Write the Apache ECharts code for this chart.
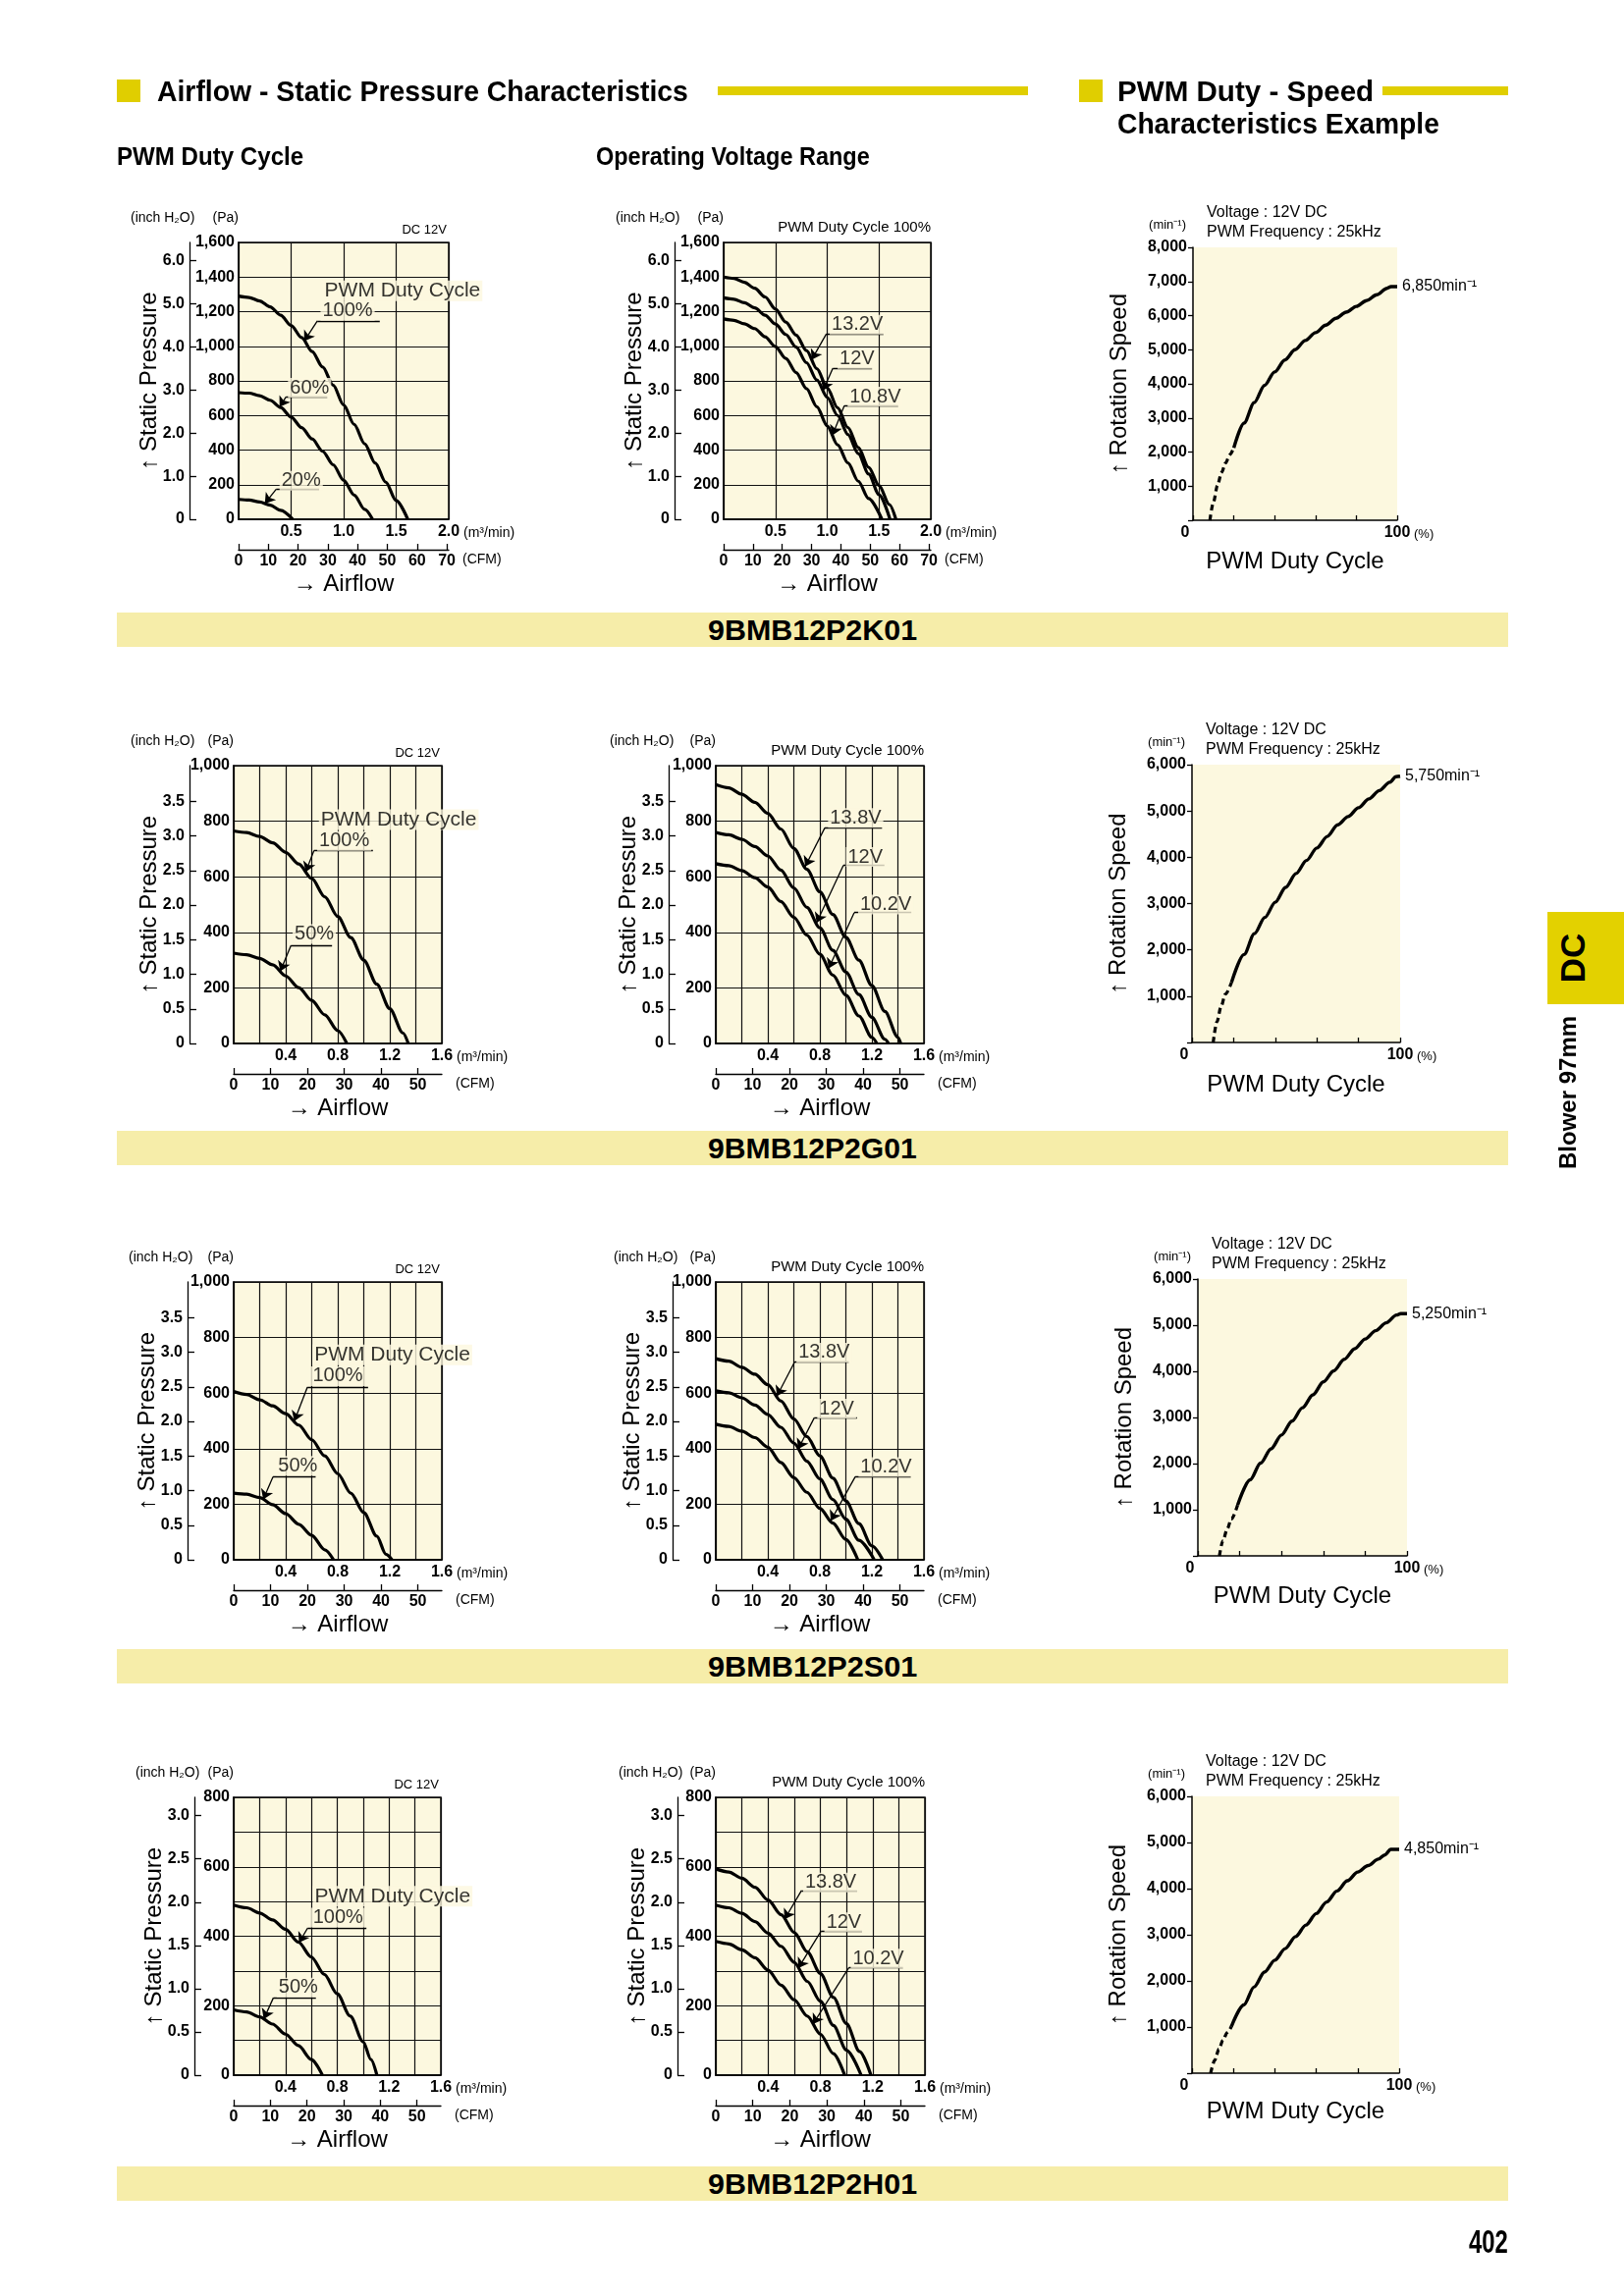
<!DOCTYPE html>
<html><head><meta charset="utf-8">
<script src="https://cdn.jsdelivr.net/npm/echarts@6/dist/echarts.min.js"></script>
<style>
html,body{margin:0;padding:0;background:#fff;}
body{width:1654px;height:2339px;position:relative;overflow:hidden;font-family:'Liberation Sans',Arial,sans-serif;color:#000;}
#chart{position:absolute;left:0;top:0;width:1654px;height:2339px;}
.rect{position:absolute;}
.txt{position:absolute;white-space:nowrap;line-height:1;transform-origin:0 50%;font-weight:bold;}
.rot{position:absolute;white-space:nowrap;line-height:1;font-weight:bold;transform:translate(-50%,-50%) rotate(-90deg);}
</style></head>
<body>
<div id="chart"></div>

<div class="rect" style="left:119px;top:81px;width:24px;height:23px;background:#e0ce00"></div>
<div class="rect" style="left:731px;top:88px;width:316px;height:9px;background:#e0ce00"></div>
<div class="rect" style="left:1099px;top:81px;width:24px;height:23px;background:#e0ce00"></div>
<div class="rect" style="left:1408px;top:88px;width:128px;height:9px;background:#e0ce00"></div>

<div class="txt" data-w="541" data-cy="93" style="left:160px;font-size:29px">Airflow - Static Pressure Characteristics</div>
<div class="txt" data-w="261" data-cy="93" style="left:1138px;font-size:29px">PWM Duty - Speed</div>
<div class="txt" data-w="328" data-cy="126" style="left:1138px;font-size:29px">Characteristics Example</div>
<div class="txt" data-w="190" data-cy="159" style="left:119px;font-size:26px">PWM Duty Cycle</div>
<div class="txt" data-w="279" data-cy="159" style="left:607px;font-size:26px">Operating Voltage Range</div>

<div class="rect" style="left:119px;top:624px;width:1417px;height:35px;background:#f6eda9"></div>
<div class="rect" style="left:119px;top:1152px;width:1417px;height:35px;background:#f6eda9"></div>
<div class="rect" style="left:119px;top:1680px;width:1417px;height:35px;background:#f6eda9"></div>
<div class="rect" style="left:119px;top:2207px;width:1417px;height:35px;background:#f6eda9"></div>
<div class="txt" data-w="213" data-cx="827" data-cy="642" style="font-size:30px">9BMB12P2K01</div>
<div class="txt" data-w="213" data-cx="827" data-cy="1170" style="font-size:30px">9BMB12P2G01</div>
<div class="txt" data-w="213" data-cx="827" data-cy="1698" style="font-size:30px">9BMB12P2S01</div>
<div class="txt" data-w="213" data-cx="827" data-cy="2225" style="font-size:30px">9BMB12P2H01</div>

<div class="rect" style="left:1576px;top:929px;width:78px;height:94px;background:#e3d100"></div>
<div class="rot" style="left:1601px;top:976px;font-size:35px">DC</div>
<div class="rot" style="left:1597px;top:1113px;font-size:24px">Blower 97mm</div>
<div class="txt" data-w="40" data-cy="2283" style="left:1496px;font-size:34px">402</div>

<script>
// ---------- constants ----------
const PA_PER_INCH = 249.089;
const CFM_PER_M3 = 35.3147;

// ---------- tick label lists ----------
const inchTicks16 = [0, 1, 2, 3, 4, 5, 6];
const inchTicks10 = [0, 0.5, 1, 1.5, 2, 2.5, 3, 3.5];
const inchTicks08 = [0, 0.5, 1, 1.5, 2, 2.5, 3];
const cfmTicks70 = [0, 10, 20, 30, 40, 50, 60, 70];
const cfmTicks50 = [0, 10, 20, 30, 40, 50];
const dutyLabelTicks = [0, 100];

// ---------- 9BMB12P2K01 ----------
const k01Pwm100 = [[0,1290],[0.1,1282],[0.2,1262],[0.3,1228],[0.4,1180],[0.5,1120],[0.6,1050],[0.7,970],[0.8,880],[0.9,775],[1.0,660],[1.1,548],[1.2,436],[1.3,325],[1.4,215],[1.5,108],[1.61,0]];
const k01Pwm60 = [[0,732],[0.1,729],[0.2,714],[0.3,688],[0.4,646],[0.5,591],[0.6,530],[0.7,464],[0.8,393],[0.9,315],[1.0,225],[1.1,140],[1.2,57],[1.275,0]];
const k01Pwm20 = [[0,115],[0.1,111],[0.2,100],[0.3,82],[0.4,52],[0.516,0]];
const k01V132 = [[0,1400],[0.1,1392],[0.2,1370],[0.3,1335],[0.4,1285],[0.5,1215],[0.6,1140],[0.7,1065],[0.8,975],[0.9,870],[1.0,760],[1.1,645],[1.2,530],[1.3,415],[1.4,300],[1.5,195],[1.6,85],[1.663,0]];
const k01V120 = [[0,1280],[0.1,1272],[0.2,1252],[0.3,1222],[0.4,1180],[0.5,1128],[0.6,1068],[0.7,995],[0.8,905],[0.9,805],[1.0,705],[1.1,600],[1.2,490],[1.3,380],[1.4,262],[1.5,142],[1.606,0]];
const k01V108 = [[0,1158],[0.1,1150],[0.2,1130],[0.3,1102],[0.4,1055],[0.5,998],[0.6,930],[0.7,848],[0.8,755],[0.9,650],[1.0,540],[1.1,430],[1.2,325],[1.3,220],[1.4,120],[1.528,0]];
const k01SpeedDash = [[8.3,0],[10,520],[12,1020],[14,1400],[16,1680],[18,1920],[20,2120]];
const k01SpeedSolid = [[20,2120],[25,2850],[30,3450],[35,3950],[40,4350],[45,4700],[50,5000],[55,5270],[60,5500],[65,5720],[70,5920],[75,6100],[80,6270],[85,6440],[90,6610],[95,6800],[97,6850],[100,6850]];

// ---------- 9BMB12P2G01 ----------
const g01Pwm100 = [[0,765],[0.1,759],[0.2,745],[0.3,722],[0.4,688],[0.5,646],[0.6,594],[0.7,528],[0.8,457],[0.9,381],[1.0,300],[1.1,213],[1.2,125],[1.3,38],[1.342,0]];
const g01Pwm50 = [[0,325],[0.1,319],[0.2,306],[0.3,283],[0.4,243],[0.5,201],[0.6,155],[0.7,103],[0.8,46],[0.87,0]];
const g01V138 = [[0,932],[0.1,920],[0.2,897],[0.3,868],[0.4,828],[0.5,772],[0.6,702],[0.7,627],[0.8,546],[0.9,464],[1.0,382],[1.1,300],[1.2,208],[1.3,115],[1.4,22],[1.422,0]];
const g01V120 = [[0,760],[0.1,751],[0.2,735],[0.3,709],[0.4,675],[0.5,624],[0.6,560],[0.7,490],[0.8,416],[0.9,335],[1.0,257],[1.1,176],[1.2,94],[1.3,15],[1.328,0]];
const g01V102 = [[0,647],[0.1,640],[0.2,622],[0.3,597],[0.4,563],[0.5,511],[0.6,454],[0.7,390],[0.8,321],[0.9,246],[1.0,174],[1.1,99],[1.2,22],[1.238,0]];
const g01SpeedDash = [[10.2,0],[12,450],[14,780],[16,1040],[19,1300]];
const g01SpeedSolid = [[19,1300],[25,1900],[30,2350],[35,2700],[40,3030],[45,3350],[50,3650],[55,3930],[60,4200],[65,4450],[70,4700],[75,4880],[80,5070],[85,5260],[90,5440],[95,5620],[98,5740],[100,5750]];

// ---------- 9BMB12P2S01 ----------
const s01Pwm100 = [[0,606],[0.1,595],[0.2,576],[0.3,554],[0.4,526],[0.5,485],[0.6,432],[0.7,374],[0.8,310],[0.9,240],[1.0,170],[1.1,85],[1.17,20],[1.217,0]];
const s01Pwm50 = [[0,240],[0.1,236],[0.2,224],[0.3,198],[0.4,166],[0.5,128],[0.6,88],[0.7,36],[0.768,0]];
const s01V138 = [[0,724],[0.1,715],[0.2,693],[0.3,668],[0.4,630],[0.5,572],[0.6,507],[0.7,444],[0.8,374],[0.9,294],[1.0,212],[1.1,130],[1.2,50],[1.283,0]];
const s01V120 = [[0,608],[0.1,601],[0.2,583],[0.3,557],[0.4,523],[0.5,477],[0.6,420],[0.7,355],[0.8,291],[0.9,217],[1.0,146],[1.1,70],[1.218,0]];
const s01V102 = [[0,488],[0.1,480],[0.2,463],[0.3,440],[0.4,405],[0.5,350],[0.6,296],[0.7,243],[0.8,185],[0.9,132],[1.0,73],[1.092,0]];
const s01SpeedDash = [[10.3,0],[12,330],[14,580],[16,800],[19,1100]];
const s01SpeedSolid = [[19,1100],[25,1650],[30,2010],[35,2320],[40,2620],[45,2920],[50,3210],[55,3490],[60,3770],[65,4010],[70,4260],[75,4490],[80,4700],[85,4880],[90,5050],[95,5220],[97,5250],[100,5250]];

// ---------- 9BMB12P2H01 ----------
const h01Pwm100 = [[0,490],[0.1,482],[0.2,467],[0.3,447],[0.4,420],[0.5,383],[0.6,340],[0.7,290],[0.8,234],[0.9,170],[1.0,96],[1.06,45],[1.106,0]];
const h01Pwm50 = [[0,188],[0.1,182],[0.2,168],[0.3,147],[0.4,118],[0.5,85],[0.6,45],[0.685,0]];
const h01V138 = [[0,594],[0.1,585],[0.2,567],[0.3,541],[0.4,504],[0.5,462],[0.6,411],[0.7,355],[0.8,293],[0.9,224],[1.0,148],[1.1,68],[1.187,0]];
const h01V120 = [[0,490],[0.1,482],[0.2,466],[0.3,442],[0.4,409],[0.5,371],[0.6,325],[0.7,270],[0.8,213],[0.9,143],[1.0,72],[1.112,0]];
const h01V102 = [[0,385],[0.1,378],[0.2,361],[0.3,338],[0.4,302],[0.5,259],[0.6,217],[0.7,170],[0.8,118],[0.9,62],[0.986,0]];
const h01SpeedDash = [[9,0],[11,280],[13,520],[15,720],[17,880],[19,1010]];
const h01SpeedSolid = [[19,1010],[25,1480],[30,1870],[35,2190],[40,2450],[45,2700],[50,2960],[55,3210],[60,3460],[65,3710],[70,3950],[75,4170],[80,4360],[85,4500],[90,4640],[93,4730],[96,4850],[100,4850]];

// ---------- annotations (data coordinates) ----------
const k01PwmHeading = {text:'PWM Duty Cycle', at:[0.80,1321]};
const k01PwmNotes = [
  {text:'100%', at:[0.78,1204], under:[0.75,1.344,1147], tipX:0.625, curve:k01Pwm100},
  {text:'60%',  at:[0.47,760],  under:[0.453,0.844,709], tipX:0.39,  curve:k01Pwm60},
  {text:'20%',  at:[0.39,223],  under:[0.36,0.766,175],  tipX:0.25,  curve:k01Pwm20}
];
const k01VoltNotes = [
  {text:'13.2V', at:[1.024,1125], under:[0.992,1.543,1072], tipX:0.85, curve:k01V132},
  {text:'12V',   at:[1.10,926],   under:[1.055,1.433,874],  tipX:0.96, curve:k01V120},
  {text:'10.8V', at:[1.197,709],  under:[1.165,1.685,657],  tipX:1.05, curve:k01V108}
];
const g01PwmHeading = {text:'PWM Duty Cycle', at:[0.655,806]};
const g01PwmNotes = [
  {text:'100%', at:[0.642,729], under:[0.617,1.07,694], tipX:0.554, curve:g01Pwm100},
  {text:'50%',  at:[0.453,394], under:[0.441,0.756,353], tipX:0.358, curve:g01Pwm50}
];
const g01VoltNotes = [
  {text:'13.8V', at:[0.863,812], under:[0.838,1.278,776], tipX:0.687, curve:g01V138},
  {text:'12V',   at:[1.0,671],   under:[0.981,1.296,641], tipX:0.775, curve:g01V120},
  {text:'10.2V', at:[1.094,500], under:[1.064,1.503,471], tipX:0.868, curve:g01V102}
];
const s01PwmHeading = {text:'PWM Duty Cycle', at:[0.605,738]};
const s01PwmNotes = [
  {text:'100%', at:[0.592,661], under:[0.567,1.033,622], tipX:0.466, curve:s01Pwm100},
  {text:'50%',  at:[0.327,338], under:[0.302,0.63,299],  tipX:0.227, curve:s01Pwm50}
];
const s01VoltNotes = [
  {text:'13.8V', at:[0.62,746],  under:[0.608,1.022,714], tipX:0.47,  curve:s01V138},
  {text:'12V',   at:[0.78,544],  under:[0.757,1.085,511], tipX:0.633, curve:s01V120},
  {text:'10.2V', at:[1.097,334], under:[1.072,1.499,299], tipX:0.884, curve:s01V102}
];
const h01PwmHeading = {text:'PWM Duty Cycle', at:[0.61,515]};
const h01PwmNotes = [
  {text:'100%', at:[0.597,454], under:[0.572,1.025,424], tipX:0.504, curve:h01Pwm100},
  {text:'50%',  at:[0.332,252], under:[0.307,0.635,223], tipX:0.232, curve:h01Pwm50}
];
const h01VoltNotes = [
  {text:'13.8V', at:[0.668,555], under:[0.656,1.082,532], tipX:0.526, curve:h01V138},
  {text:'12V',   at:[0.831,440], under:[0.806,1.119,415], tipX:0.631, curve:h01V120},
  {text:'10.2V', at:[1.032,336], under:[1.019,1.432,310], tipX:0.744, curve:h01V102}
];

// ---------- styles ----------
const FONT = "'Liberation Sans', Arial, sans-serif";
const CREAM = '#fcf8df';
const BLACK = '#000';
const numLabel = {color:BLACK, fontFamily:FONT, fontWeight:'bold', fontSize:16};

const option = {animation:false, grid:[], xAxis:[], yAxis:[], series:[], title:[]};

function interp(c, x) {
  for (let i = 0; i < c.length - 1; i++) {
    const [x0, y0] = c[i], [x1, y1] = c[i + 1];
    if (x >= x0 && x <= x1) return y0 + (y1 - y0) * (x - x0) / (x1 - x0);
  }
  return c[c.length - 1][1];
}
const onStep = (v, s) => Math.abs(v / s - Math.round(v / s)) < 1e-6;
const fmtThousands = v => Math.round(v).toLocaleString('en-US');

function addTitle(text, pos, style) {
  option.title.push(Object.assign({text, padding:0, itemGap:0,
    textStyle:Object.assign({fontFamily:FONT, fontWeight:'normal', color:BLACK, fontSize:14}, style || {})}, pos));
}

function addPressureChart(c) {
  const gi = option.grid.length, xi = option.xAxis.length, yi = option.yAxis.length;
  option.grid.push({left:c.left, top:c.top, width:c.width, height:c.height, show:true,
    backgroundColor:CREAM, borderColor:BLACK, borderWidth:1.5});
  option.xAxis.push({
    type:'value', gridIndex:gi, min:0, max:c.xMax, interval:c.xStep, position:'bottom',
    axisLine:{show:true, onZero:false, lineStyle:{color:BLACK, width:1.5}},
    axisTick:{show:false},
    splitLine:{show:true, lineStyle:{color:'#111', width:1.2}},
    axisLabel:Object.assign({margin:5, formatter:v => (v > 1e-9 && onStep(v, c.xLabelStep)) ? v.toFixed(1) : ''}, numLabel),
    name:'(m³/min)', nameLocation:'end', nameGap:15, nameMoveOverlap:false,
    nameTextStyle:{fontFamily:FONT, fontSize:14, color:BLACK, verticalAlign:'top', padding:[7,0,0,0]}
  });
  option.xAxis.push({
    type:'value', gridIndex:gi, min:0, max:c.xMax * CFM_PER_M3, position:'bottom', offset:31,
    axisLine:{show:true, onZero:false, lineStyle:{color:BLACK, width:1.3}},
    axisTick:{show:true, inside:true, length:6, customValues:c.cfmTicks, lineStyle:{color:BLACK, width:1.3}},
    splitLine:{show:false},
    axisLabel:Object.assign({margin:4, customValues:c.cfmTicks, formatter:v => String(Math.round(v))}, numLabel),
    name:'(CFM)', nameLocation:'end', nameGap:14, nameMoveOverlap:false,
    nameTextStyle:{fontFamily:FONT, fontSize:14, color:BLACK, verticalAlign:'top', padding:[3,0,0,0]}
  });
  option.xAxis.push({
    type:'value', gridIndex:gi, min:0, max:1, position:'bottom', offset:0,
    axisLine:{show:false}, axisTick:{show:false}, axisLabel:{show:false}, splitLine:{show:false},
    name:'→ Airflow', nameLocation:'middle', nameGap:54, nameMoveOverlap:false,
    nameTextStyle:{fontFamily:FONT, fontSize:24, color:BLACK}
  });
  option.yAxis.push({
    type:'value', gridIndex:gi, min:0, max:c.yMax, interval:c.yStep, position:'left',
    axisLine:{show:true, onZero:false, lineStyle:{color:BLACK, width:1.5}},
    axisTick:{show:false},
    splitLine:{show:true, lineStyle:{color:'#111', width:1.2}},
    axisLabel:Object.assign({margin:4, formatter:v => v === 0 ? '0' : (onStep(v, c.yLabelStep) ? fmtThousands(v) : '')}, numLabel)
  });
  option.yAxis.push({
    type:'value', gridIndex:gi, min:0, max:c.yMax / PA_PER_INCH, position:'left', offset:c.left - c.inchX,
    axisLine:{show:true, onZero:false, lineStyle:{color:BLACK, width:1.3}},
    axisTick:{show:true, inside:true, length:7, customValues:c.inchTicks, lineStyle:{color:BLACK, width:1.3}},
    splitLine:{show:false},
    axisLabel:Object.assign({margin:5, customValues:c.inchTicks, formatter:v => v === 0 ? '0' : v.toFixed(1)}, numLabel),
    name:'↑ Static Pressure', nameLocation:'middle', nameGap:29, nameMoveOverlap:false,
    nameTextStyle:{fontFamily:FONT, fontSize:24, color:BLACK}
  });
  c.curves.forEach(d => option.series.push({
    type:'line', xAxisIndex:xi, yAxisIndex:yi, data:d, smooth:0.3, smoothMonotone:'x',
    symbol:'none', lineStyle:{color:BLACK, width:3.2}, silent:true, z:3
  }));
  option.series.push({
    type:'lines', coordinateSystem:'cartesian2d', xAxisIndex:xi, yAxisIndex:yi, silent:true, z:5,
    symbol:['none','none'], lineStyle:{color:BLACK, width:1.3, opacity:1},
    data:c.notes.map(n => ({coords:[[n.under[0], n.under[2]], [n.under[1], n.under[2]]]}))
  });
  option.series.push({
    type:'lines', coordinateSystem:'cartesian2d', xAxisIndex:xi, yAxisIndex:yi, silent:true, z:5,
    symbol:['none','arrow'], symbolSize:[7,10], lineStyle:{color:BLACK, width:1.3, opacity:1},
    data:c.notes.map(n => ({coords:[[n.under[0], n.under[2]], [n.tipX, interp(n.curve, n.tipX)]]}))
  });
  const labels = c.notes.map(n => ({name:n.text, value:n.at}));
  if (c.heading) labels.push({name:c.heading.text, value:c.heading.at, label:{fontSize:21}});
  option.series.push({
    type:'scatter', xAxisIndex:xi, yAxisIndex:yi, data:labels, symbolSize:0,
    itemStyle:{color:'transparent'}, silent:true, z:6,
    label:{show:true, position:'right', distance:0, formatter:'{b}', fontSize:20, fontFamily:FONT,
      color:BLACK, backgroundColor:CREAM, padding:[0,2,0,2]}
  });
  addTitle('(inch H₂O)', {left:c.inchX - 60, top:c.top - 32});
  addTitle('(Pa)', {right:1654 - c.left, top:c.top - 32});
  if (c.topNote === 'DC 12V') addTitle('DC 12V', {right:1654 - (c.left + c.width - 2), top:c.top - 19}, {fontSize:13});
  else addTitle(c.topNote, {right:1654 - (c.left + c.width), top:c.top - 23}, {fontSize:15});
}

function addSpeedChart(c) {
  const gi = option.grid.length, xi = option.xAxis.length, yi = option.yAxis.length;
  option.grid.push({left:c.left, top:c.top, width:c.width, height:c.height, show:true,
    backgroundColor:CREAM, borderWidth:0});
  option.xAxis.push({
    type:'value', gridIndex:gi, min:0, max:100, interval:20, position:'bottom',
    axisLine:{show:true, onZero:false, lineStyle:{color:BLACK, width:1.5}},
    axisTick:{show:true, inside:true, length:5, lineStyle:{color:BLACK, width:1.3}},
    splitLine:{show:false},
    axisLabel:Object.assign({margin:5, customValues:dutyLabelTicks,
      formatter:v => v === 0 ? '{z|0}' : String(v),
      rich:{z:Object.assign({padding:[0,16,0,0]}, numLabel)}}, numLabel),
    name:'PWM Duty Cycle', nameLocation:'middle', nameGap:c.nameGapX, nameMoveOverlap:false,
    nameTextStyle:{fontFamily:FONT, fontSize:24, color:BLACK}
  });
  option.xAxis.push({
    type:'value', gridIndex:gi, min:0, max:100, position:'bottom',
    axisLine:{show:false}, axisTick:{show:false}, axisLabel:{show:false}, splitLine:{show:false},
    name:'(%)', nameLocation:'end', nameGap:17, nameMoveOverlap:false,
    nameTextStyle:{fontFamily:FONT, fontSize:13, color:BLACK, verticalAlign:'top', padding:[8,0,0,0]}
  });
  option.yAxis.push({
    type:'value', gridIndex:gi, min:0, max:c.yMax, interval:1000, position:'left',
    axisLine:{show:true, onZero:false, lineStyle:{color:BLACK, width:1.5}},
    axisTick:{show:true, inside:false, length:5, lineStyle:{color:BLACK, width:1.3}},
    splitLine:{show:false},
    axisLabel:Object.assign({margin:6, formatter:v => v === 0 ? '' : fmtThousands(v)}, numLabel),
    name:'↑ Rotation Speed', nameLocation:'middle', nameGap:63, nameMoveOverlap:false,
    nameTextStyle:{fontFamily:FONT, fontSize:24, color:BLACK}
  });
  option.series.push({
    type:'line', xAxisIndex:xi, yAxisIndex:yi, data:c.dash, smooth:0.3, smoothMonotone:'x',
    symbol:'none', lineStyle:{color:BLACK, width:3.2, type:[6,4]}, silent:true, z:3
  });
  const last = c.solid[c.solid.length - 1];
  option.series.push({
    type:'line', xAxisIndex:xi, yAxisIndex:yi, data:c.solid, smooth:0.3, smoothMonotone:'x',
    symbol:'none', lineStyle:{color:BLACK, width:3.4}, silent:true, z:3,
    endLabel:{show:true, distance:5, formatter:() => fmtThousands(last[1]) + 'min⁻¹',
      color:BLACK, fontFamily:FONT, fontSize:16}
  });
  addTitle('Voltage : 12V DC\nPWM Frequency : 25kHz', {left:c.left + 14, top:c.top - 45}, {fontSize:16, lineHeight:20});
  addTitle('(min⁻¹)', {right:1654 - (c.left - 7), top:c.top - 29}, {fontSize:13});
}

// ---------- build ----------
addPressureChart({left:243, top:247, width:214, height:282, inchX:193, xMax:2.0, xStep:0.5, xLabelStep:0.5,
  yMax:1600, yStep:200, yLabelStep:200, inchTicks:inchTicks16, cfmTicks:cfmTicks70, topNote:'DC 12V',
  curves:[k01Pwm100, k01Pwm60, k01Pwm20], heading:k01PwmHeading, notes:k01PwmNotes});
addPressureChart({left:737, top:247, width:211, height:282, inchX:687, xMax:2.0, xStep:0.5, xLabelStep:0.5,
  yMax:1600, yStep:200, yLabelStep:200, inchTicks:inchTicks16, cfmTicks:cfmTicks70, topNote:'PWM Duty Cycle 100%',
  curves:[k01V132, k01V120, k01V108], notes:k01VoltNotes});
addSpeedChart({left:1215, top:252, width:208, height:278, yMax:8000, nameGapX:30, dash:k01SpeedDash, solid:k01SpeedSolid});

addPressureChart({left:238, top:780, width:212, height:283, inchX:193, xMax:1.6, xStep:0.2, xLabelStep:0.4,
  yMax:1000, yStep:200, yLabelStep:200, inchTicks:inchTicks10, cfmTicks:cfmTicks50, topNote:'DC 12V',
  curves:[g01Pwm100, g01Pwm50], heading:g01PwmHeading, notes:g01PwmNotes});
addPressureChart({left:729, top:780, width:212, height:283, inchX:681, xMax:1.6, xStep:0.2, xLabelStep:0.4,
  yMax:1000, yStep:200, yLabelStep:200, inchTicks:inchTicks10, cfmTicks:cfmTicks50, topNote:'PWM Duty Cycle 100%',
  curves:[g01V138, g01V120, g01V102], notes:g01VoltNotes});
addSpeedChart({left:1214, top:779, width:212, height:283, yMax:6000, nameGapX:31, dash:g01SpeedDash, solid:g01SpeedSolid});

addPressureChart({left:238, top:1306, width:212, height:283, inchX:191, xMax:1.6, xStep:0.2, xLabelStep:0.4,
  yMax:1000, yStep:200, yLabelStep:200, inchTicks:inchTicks10, cfmTicks:cfmTicks50, topNote:'DC 12V',
  curves:[s01Pwm100, s01Pwm50], heading:s01PwmHeading, notes:s01PwmNotes});
addPressureChart({left:729, top:1306, width:212, height:283, inchX:685, xMax:1.6, xStep:0.2, xLabelStep:0.4,
  yMax:1000, yStep:200, yLabelStep:200, inchTicks:inchTicks10, cfmTicks:cfmTicks50, topNote:'PWM Duty Cycle 100%',
  curves:[s01V138, s01V120, s01V102], notes:s01VoltNotes});
addSpeedChart({left:1220, top:1303, width:213, height:282, yMax:6000, nameGapX:29, dash:s01SpeedDash, solid:s01SpeedSolid});

addPressureChart({left:238, top:1831, width:211, height:283, inchX:198, xMax:1.6, xStep:0.2, xLabelStep:0.4,
  yMax:800, yStep:100, yLabelStep:200, inchTicks:inchTicks08, cfmTicks:cfmTicks50, topNote:'DC 12V',
  curves:[h01Pwm100, h01Pwm50], heading:h01PwmHeading, notes:h01PwmNotes});
addPressureChart({left:729, top:1831, width:213, height:283, inchX:690, xMax:1.6, xStep:0.2, xLabelStep:0.4,
  yMax:800, yStep:100, yLabelStep:200, inchTicks:inchTicks08, cfmTicks:cfmTicks50, topNote:'PWM Duty Cycle 100%',
  curves:[h01V138, h01V120, h01V102], notes:h01VoltNotes});
addSpeedChart({left:1214, top:1830, width:211, height:282, yMax:6000, nameGapX:27, dash:h01SpeedDash, solid:h01SpeedSolid});

const chart = echarts.init(document.getElementById('chart'), null, {renderer:'canvas'});
chart.setOption(option);

// ---------- fit HTML headings ----------
document.querySelectorAll('.txt').forEach(el => {
  const fs = parseFloat(el.style.fontSize);
  const w = parseFloat(el.dataset.w);
  const natural = el.offsetWidth;
  const s = w / natural;
  if (el.dataset.cx) el.style.left = (parseFloat(el.dataset.cx) - w / 2) + 'px';
  el.style.top = (parseFloat(el.dataset.cy) - 0.49 * fs) + 'px';
  el.style.transform = 'scaleX(' + s + ')';
});
</script>
</body></html>
